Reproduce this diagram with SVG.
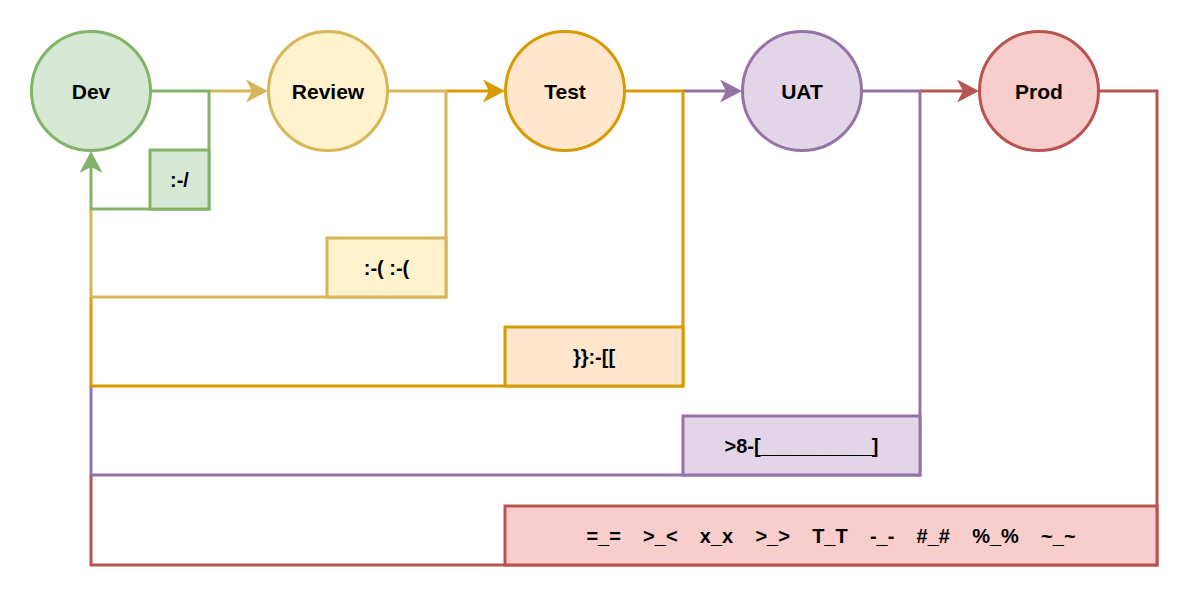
<svg xmlns="http://www.w3.org/2000/svg" width="1200" height="609" viewBox="0 0 1200 609">
<style>
  .ln { fill: none; stroke-width: 3; stroke-linejoin: miter; stroke-linecap: butt; }
  .nd { stroke-width: 3; }
  .lbl { font-family: "Liberation Sans", Arial, Helvetica, sans-serif; font-weight: bold; text-anchor: middle; fill: #000; white-space: pre; }
  .big { font-size: 21px; }
  .sm { font-size: 20px; }
  .g { stroke: #82b366; } .gf { fill: #d5e8d4; }
  .y { stroke: #d6b656; } .yf { fill: #fff2cc; }
  .o { stroke: #d79b00; } .of { fill: #ffe6cc; }
  .p { stroke: #9673a6; } .pf { fill: #e1d5e7; }
  .r { stroke: #b85450; } .rf { fill: #f8cecc; }
</style>
<defs>
  <marker id="ag" viewBox="0 0 22 23" refX="6" refY="11.5" markerWidth="22" markerHeight="23" markerUnits="userSpaceOnUse" orient="auto"><path d="M0,0 L22,11.5 L0,23 L6,11.5 Z" fill="#82b366"/></marker>
  <marker id="ay" viewBox="0 0 22 23" refX="6" refY="11.5" markerWidth="22" markerHeight="23" markerUnits="userSpaceOnUse" orient="auto"><path d="M0,0 L22,11.5 L0,23 L6,11.5 Z" fill="#d6b656"/></marker>
  <marker id="ao" viewBox="0 0 22 23" refX="6" refY="11.5" markerWidth="22" markerHeight="23" markerUnits="userSpaceOnUse" orient="auto"><path d="M0,0 L22,11.5 L0,23 L6,11.5 Z" fill="#d79b00"/></marker>
  <marker id="ap" viewBox="0 0 22 23" refX="6" refY="11.5" markerWidth="22" markerHeight="23" markerUnits="userSpaceOnUse" orient="auto"><path d="M0,0 L22,11.5 L0,23 L6,11.5 Z" fill="#9673a6"/></marker>
  <marker id="ar" viewBox="0 0 22 23" refX="6" refY="11.5" markerWidth="22" markerHeight="23" markerUnits="userSpaceOnUse" orient="auto"><path d="M0,0 L22,11.5 L0,23 L6,11.5 Z" fill="#b85450"/></marker>
</defs>
<g id="connectors">
  <path class="ln y" d="M209,91 H252" marker-end="url(#ay)"/>
  <path class="ln o" d="M446,91 H489" marker-end="url(#ao)"/>
  <path class="ln p" d="M683,91 H726" marker-end="url(#ap)"/>
  <path class="ln r" d="M920,91 H963" marker-end="url(#ar)"/>
  <path class="ln r" d="M1098,91 H1157 V565 H91 V475"/>
  <path class="ln p" d="M861,91 H920 V475 H91 V386"/>
  <path class="ln o" d="M624,91 H683 V386 H91 V297"/>
  <path class="ln y" d="M387,91 H446 V297 H91 V209"/>
  <path class="ln g" d="M150,91 H209 V209 H91 V167" marker-end="url(#ag)"/>
</g>
<g id="dev"><circle class="nd g gf" cx="91" cy="91" r="59.5"/><text class="lbl big" x="91" y="98.5">Dev</text></g>
<g id="review"><circle class="nd y yf" cx="328" cy="91" r="59.5"/><text class="lbl big" x="328" y="98.5">Review</text></g>
<g id="test"><circle class="nd o of" cx="565" cy="91" r="59.5"/><text class="lbl big" x="565" y="98.5">Test</text></g>
<g id="uat"><circle class="nd p pf" cx="802" cy="91" r="59.5"/><text class="lbl big" x="802" y="98.5">UAT</text></g>
<g id="prod"><circle class="nd r rf" cx="1039" cy="91" r="59.5"/><text class="lbl big" x="1039" y="98.5">Prod</text></g>
<g id="label-dev"><rect class="nd g gf" x="150" y="150" width="59" height="59"/><text class="lbl sm" x="179.5" y="186.5">:-/</text></g>
<g id="label-review"><rect class="nd y yf" x="327" y="238" width="119" height="59"/><text class="lbl sm" x="386.5" y="274.5">:-( :-(</text></g>
<g id="label-test"><rect class="nd o of" x="505" y="327" width="178" height="59"/><text class="lbl sm" x="594" y="363.5">}}:-[[</text></g>
<g id="label-uat"><rect class="nd p pf" x="683" y="416" width="237" height="59"/><text class="lbl sm" x="801.5" y="452.5">&gt;8-[__________]</text></g>
<g id="label-prod"><rect class="nd r rf" x="505" y="506" width="652" height="59"/><text class="lbl sm" x="831" y="542.5">=_=    &gt;_&lt;    x_x    &gt;_&gt;    T_T    -_-    #_#    %_%    ~_~</text></g>
</svg>
